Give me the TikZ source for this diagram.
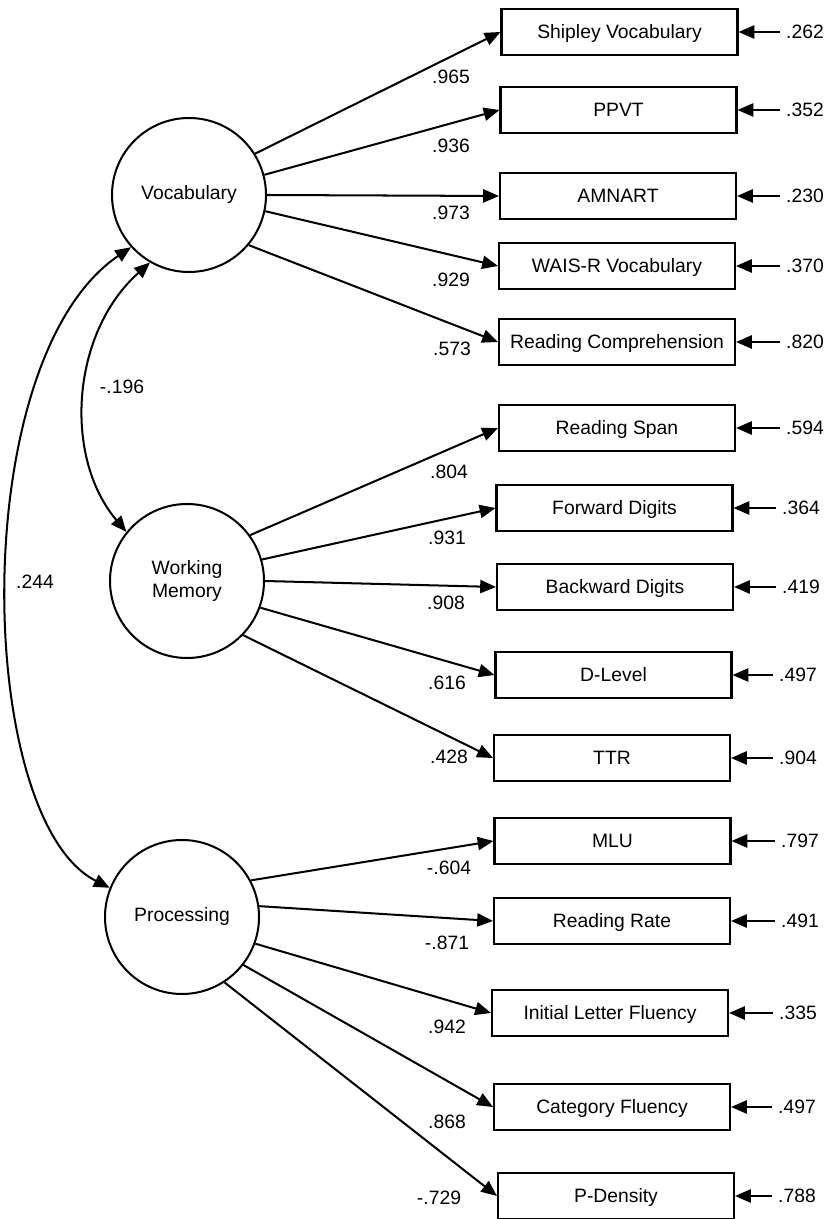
\documentclass[tikz,border=0pt]{standalone}
\usepackage{fontspec}
\setmainfont{Liberation Sans}
\usetikzlibrary{arrows.meta}

\begin{document}
\begin{tikzpicture}[
        font=\fontsize{11}{13}\selectfont,
        latent/.style={circle, draw, line width=1.15pt, minimum size=3.08cm, inner sep=0pt, align=center},
        observed/.style={rectangle, draw, line width=1.15pt, minimum width=4.72cm, minimum height=0.92cm, inner sep=0pt, text height=0.72em, text depth=0pt},
        load/.style={line width=1.15pt, -{Triangle[length=9pt,width=7.5pt]}},
        cov/.style={line width=1.15pt, {Triangle[length=9pt,width=7.5pt]}-{Triangle[length=9pt,width=7.5pt]}},
    ]
        \useasboundingbox (0,0) rectangle (16.56,24.38);

        \node[latent] (voc) at (3.78,20.48) {Vocabulary};
        \node[latent] (wm) at (3.74,12.76) {Working\\Memory};
        \node[latent] (proc) at (3.64,6.04) {Processing};

        \node[observed] (shipley) at (12.39,23.74) {Shipley Vocabulary};
        \node[observed] (ppvt) at (12.37,22.18) {PPVT};
        \node[observed] (amnart) at (12.36,20.46) {AMNART};
        \node[observed] (wais) at (12.34,19.06) {WAIS-R Vocabulary};
        \node[observed] (readcomp) at (12.34,17.54) {Reading Comprehension};
        \node[observed] (readspan) at (12.34,15.82) {Reading Span};
        \node[observed] (fwd) at (12.29,14.22) {Forward Digits};
        \node[observed] (bwd) at (12.30,12.64) {Backward Digits};
        \node[observed] (dlevel) at (12.27,10.88) {D-Level};
        \node[observed] (ttr) at (12.24,9.22) {TTR};
        \node[observed] (mlu) at (12.25,7.56) {MLU};
        \node[observed] (readrate) at (12.24,5.96) {Reading Rate};
        \node[observed] (initlet) at (12.20,4.12) {Initial Letter Fluency};
        \node[observed] (catflu) at (12.24,2.24) {Category Fluency};
        \node[observed] (pdens) at (12.32,0.46) {P-Density};

        \node (eshipley) at (16.10,23.74) {.262};
        \node (eppvt) at (16.10,22.18) {.352};
        \node (eamnart) at (16.10,20.46) {.230};
        \node (ewais) at (16.10,19.06) {.370};
        \node (ereadcomp) at (16.10,17.54) {.820};
        \node (ereadspan) at (16.10,15.82) {.594};
        \node (efwd) at (16.02,14.22) {.364};
        \node (ebwd) at (16.02,12.64) {.419};
        \node (edlevel) at (15.96,10.88) {.497};
        \node (ettr) at (15.96,9.22) {.904};
        \node (emlu) at (16.00,7.56) {.797};
        \node (ereadrate) at (16.00,5.96) {.491};
        \node (einitlet) at (15.96,4.12) {.335};
        \node (ecatflu) at (15.94,2.24) {.497};
        \node (epdens) at (15.94,0.46) {.788};

        \draw[load] (eshipley.west) -- (shipley.east);
        \draw[load] (eppvt.west) -- (ppvt.east);
        \draw[load] (eamnart.west) -- (amnart.east);
        \draw[load] (ewais.west) -- (wais.east);
        \draw[load] (ereadcomp.west) -- (readcomp.east);
        \draw[load] (ereadspan.west) -- (readspan.east);
        \draw[load] (efwd.west) -- (fwd.east);
        \draw[load] (ebwd.west) -- (bwd.east);
        \draw[load] (edlevel.west) -- (dlevel.east);
        \draw[load] (ettr.west) -- (ttr.east);
        \draw[load] (emlu.west) -- (mlu.east);
        \draw[load] (ereadrate.west) -- (readrate.east);
        \draw[load] (einitlet.west) -- (initlet.east);
        \draw[load] (ecatflu.west) -- (catflu.east);
        \draw[load] (epdens.west) -- (pdens.east);

        \draw[load] (voc.32) -- (shipley.west);
        \draw[load] (voc.15) -- (ppvt.west);
        \draw[load] (voc.0) -- (amnart.west);
        \draw[load] (voc.348) -- (wais.west);
        \draw[load] (voc.320) -- (readcomp.west);
        \draw[load] (wm.36) -- (readspan.west);
        \draw[load] (wm.16) -- (fwd.west);
        \draw[load] (wm.0) -- (bwd.west);
        \draw[load] (wm.340) -- (dlevel.west);
        \draw[load] (wm.316) -- (ttr.west);
        \draw[load] (proc.28) -- (mlu.west);
        \draw[load] (proc.8) -- (readrate.west);
        \draw[load] (proc.340) -- (initlet.west);
        \draw[load] (proc.322) -- (catflu.west);
        \draw[load] (proc.303) -- (pdens.west);

        \node (lshipley) at (9.02,22.84) {.965};
        \node (lppvt) at (9.02,21.46) {.936};
        \node (lamnart) at (9.02,20.12) {.973};
        \node (lwais) at (9.02,18.78) {.929};
        \node (lreadcomp) at (9.04,17.40) {.573};
        \node (lreadspan) at (8.98,14.94) {.804};
        \node (lfwd) at (8.94,13.62) {.931};
        \node (lbwd) at (8.92,12.32) {.908};
        \node (ldlevel) at (8.94,10.72) {.616};
        \node (lttr) at (8.98,9.24) {.428};
        \node (lmlu) at (8.98,7.02) {-.604};
        \node (lreadrate) at (8.94,5.52) {-.871};
        \node (linitlet) at (8.94,3.84) {.942};
        \node (lcatflu) at (8.94,1.94) {.868};
        \node (lpdens) at (8.78,0.42) {-.729};

        \draw[cov] (voc.240) .. controls (1.42,17.72) and (1.26,15.24) .. (wm.141);
        \draw[cov] (voc.222) .. controls (-0.70,17.18) and (-0.50,7.98) .. (proc.158);
        \node (cvocwm) at (2.44,16.64) {-.196};
        \node (cvocproc) at (0.70,12.74) {.244};

    \end{tikzpicture}
\end{document}
